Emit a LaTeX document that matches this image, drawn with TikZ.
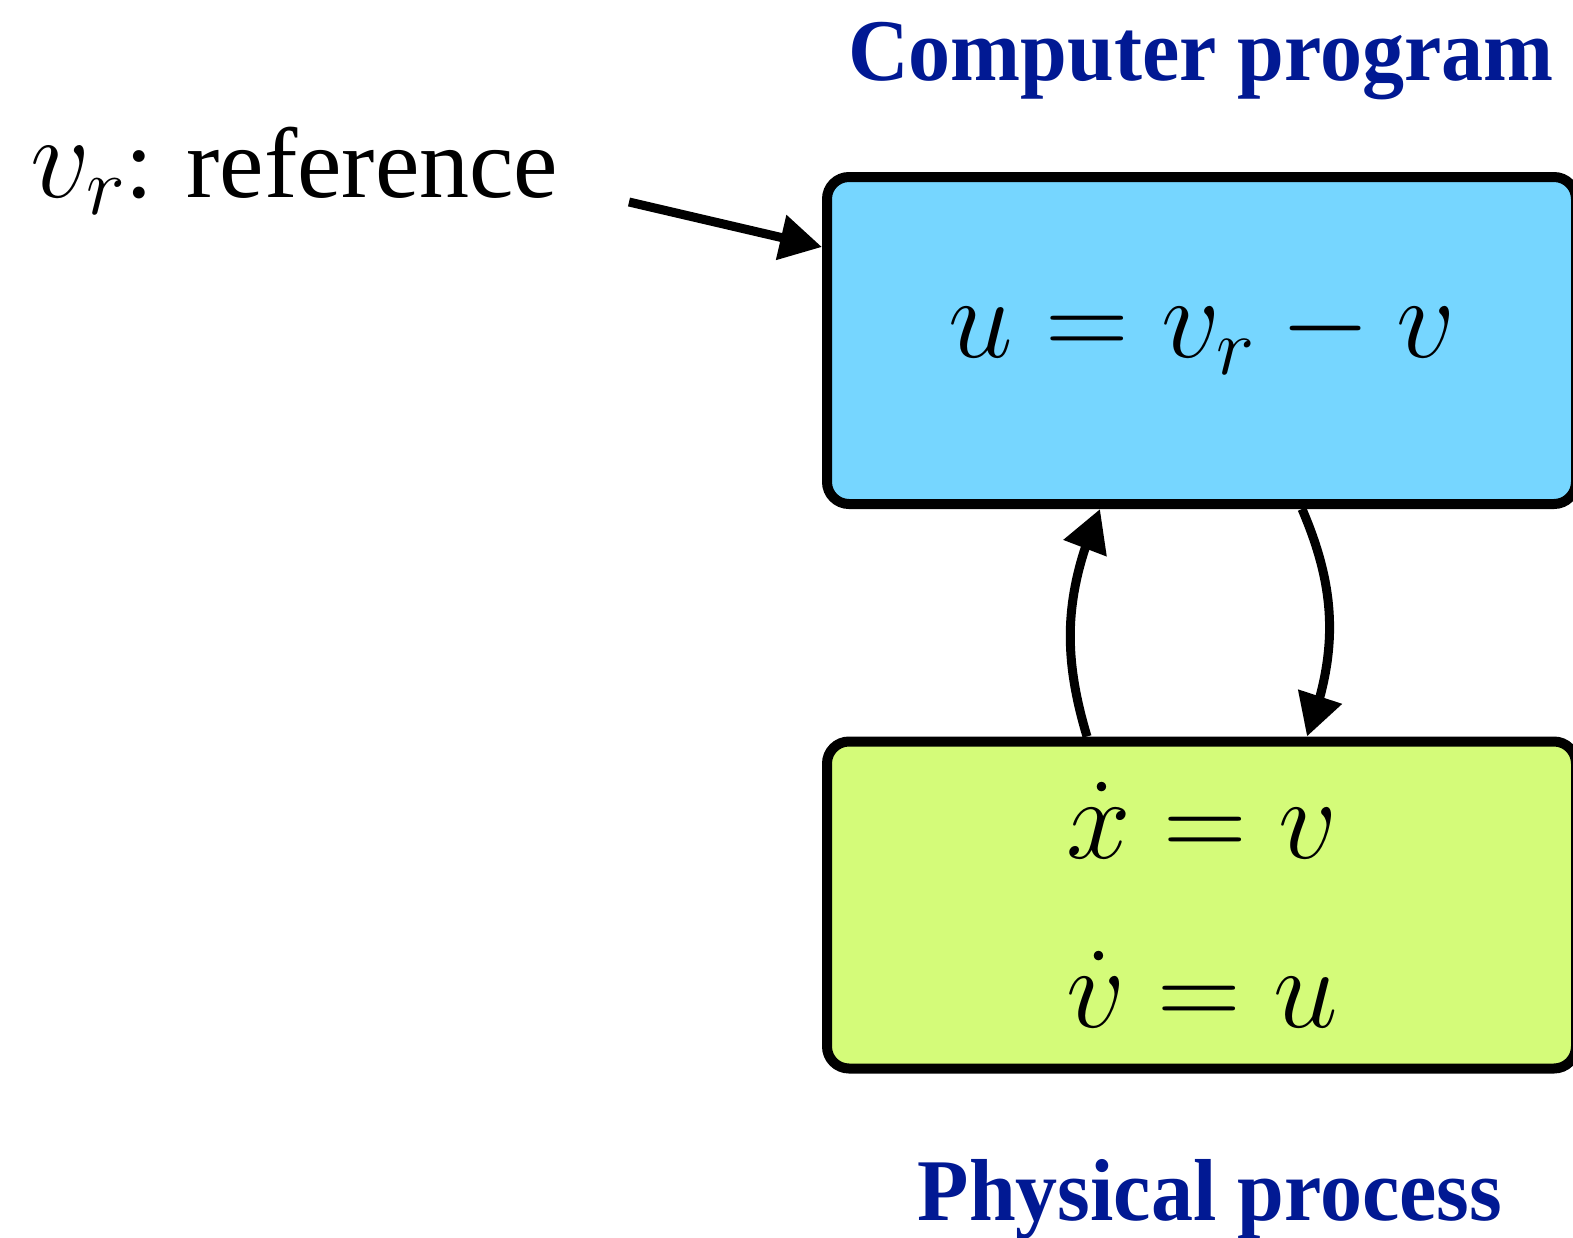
\RequirePackage{fix-cm}
\documentclass[tikz,border=0pt]{standalone}
\usepackage{fontspec}
\setmainfont{Liberation Serif}
\usepackage{graphicx}
\usetikzlibrary{arrows.meta,bending}
\definecolor{skyC}{HTML}{76D6FF}
\definecolor{honeyC}{HTML}{D4FB79}
\definecolor{midC}{HTML}{011993}
\begin{document}
\begin{tikzpicture}[x=1pt,y=1pt,
 box/.style={draw=black, line width=10pt, rounded corners=22pt, minimum width=749pt, minimum height=327pt, inner sep=0pt},
 arr/.style={line width=9pt, -{Triangle[length=42pt,width=44pt]}},
 title/.style={text=midC, font=\fontsize{88}{100}\selectfont\bfseries, inner sep=0pt, anchor=base},
 eq/.style={font=\fontsize{116}{130}\selectfont, inner sep=0pt, anchor=base}]
\useasboundingbox (0,0) rectangle (1573,-1237);
\node[box, fill=skyC] (cp) at (1201.5,-340.5) {};
\node[box, fill=honeyC] (pp) at (1201.5,-905) {};
\node[title] (t1) at (1201,-80) {\scalebox{0.955}[1]{Computer program}};
\node[title] (t2) at (1210,-1220) {\scalebox{0.955}[1]{Physical process}};
\node[eq] (e1) at (1202,-357) {$u = v_r - v$};
\node[eq] (e2) at (1202,-858) {$\dot x = v$};
\node[eq] (e3) at (1202,-1027) {$\dot v = u$};
\node[anchor=base west, inner sep=0pt] (lbl) at (30,-197) {{\fontsize{118}{130}\selectfont$v_r$}{\fontsize{100}{120}\selectfont: reference}};
\coordinate (rs) at (629,-202);
\coordinate (ry) at (0,-247);
\draw[arr] (rs) -- (cp.west |- ry);
\coordinate (ua) at (1087,0);
\coordinate (ub) at (1100,0);
\coordinate (da) at (1302,0);
\coordinate (db) at (1307,0);
\draw[arr] (pp.north -| ua) to[bend left=20] (cp.south -| ub);
\draw[arr] (cp.south -| da) to[bend left=22] (pp.north -| db);
\end{tikzpicture}
\end{document}
